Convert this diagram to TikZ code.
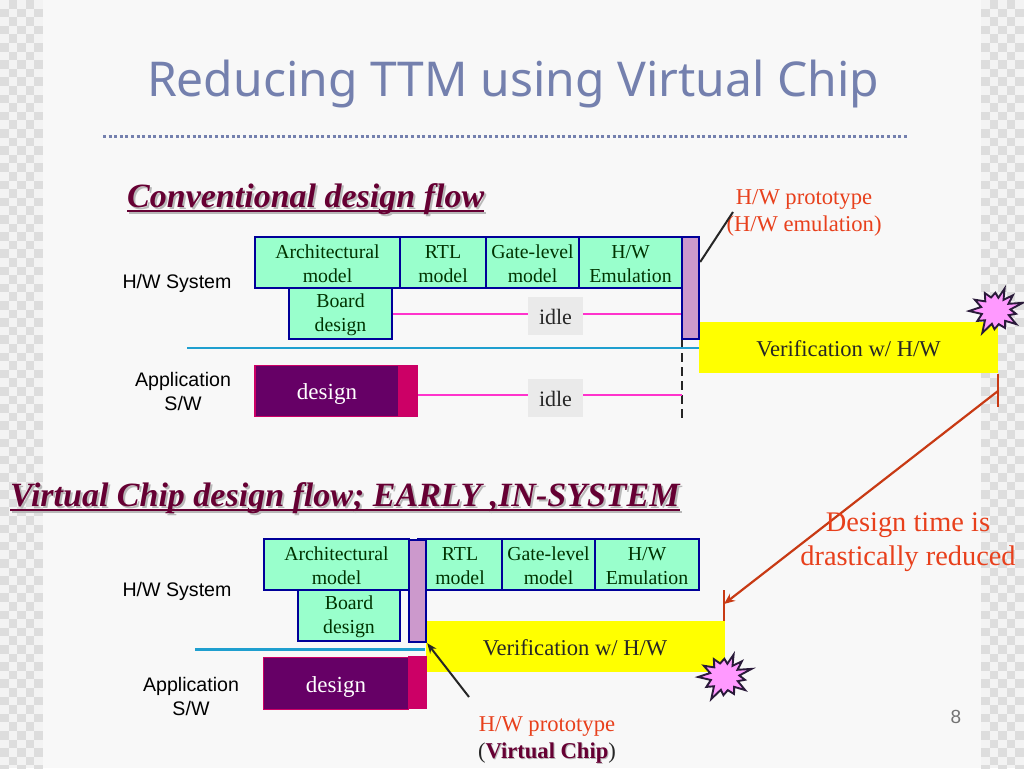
\documentclass[tikz,border=0pt]{standalone}
\usepackage{fontspec}
\setmainfont{Liberation Serif}
\newfontfamily\labfont{Liberation Sans}
\newfontfamily\titlefont{Noto Sans}
\usetikzlibrary{arrows.meta}
\definecolor{titleblue}{HTML}{7480AE}
\definecolor{panel}{HTML}{F8F8F8}
\definecolor{checkA}{HTML}{F3F3F3}
\definecolor{checkB}{HTML}{DDDDDD}
\definecolor{mint}{HTML}{99FFCC}
\definecolor{navyline}{HTML}{000099}
\definecolor{lilac}{HTML}{CC99CC}
\definecolor{plum}{HTML}{660066}
\definecolor{maroon}{HTML}{660033}
\definecolor{crimson}{HTML}{CC0066}
\definecolor{pinkline}{HTML}{FF33CC}
\definecolor{cyanline}{HTML}{1F9FCF}
\definecolor{redtext}{HTML}{E8401C}
\definecolor{redline}{HTML}{C83A14}
\definecolor{idlegrey}{HTML}{EAEAEA}
\definecolor{burstfill}{HTML}{FF99FF}
\definecolor{burstline}{HTML}{2A1A3A}
\definecolor{pureyellow}{HTML}{FFFF00}
\newsavebox{\headbox}
\newcommand{\headtxt}[1]{\sbox{\headbox}{#1}\rlap{\raisebox{-5pt}{\rule{\wd\headbox}{2.4pt}}}\usebox{\headbox}}
\newcommand{\fl}{\rule{0pt}{16.5pt}}
\newcommand{\burstat}[1]{\draw[burstline,line width=1.9pt,fill=burstfill,line join=miter,miter limit=8,shift={(#1)},scale=0.96]
  ({29*cos(-17)},{29*sin(-17)}) \foreach \a/\r in {-6/15,8/21,18/14,33/25,47/14,62/20,78/14,95/19,108/14,122/27,140/15,152/22,168/15,180/28,195/16,208/25,222/15,238/22,250/15,268/19,280/14,291/25,304/14,317/24,330/15}{ -- ({\r*cos(\a)},{\r*sin(\a)}) } -- cycle;}
\tikzset{
  x=1pt,y=-1pt,
  flowbox/.style={draw=navyline,line width=2.4pt,fill=mint,inner sep=0pt,align=center,text=black!80!green,
    font=\fontsize{19.8}{24}\selectfont},
  protobox/.style={draw=navyline,line width=2.4pt,fill=lilac,inner sep=0pt},
  idlebox/.style={fill=idlegrey,inner sep=0pt,minimum width=55pt,minimum height=38pt,text=black!85,font=\fontsize{22}{24}\selectfont,execute at begin node={\rule{0pt}{17pt}}},
  designbox/.style={draw=crimson,line width=1.4pt,fill=plum,inner sep=0pt,text=white,font=\fontsize{23}{24}\selectfont,execute at begin node={\rule{0pt}{22pt}}},
  crimbox/.style={fill=crimson,inner sep=0pt},
  verifbox/.style={fill=pureyellow,inner sep=0pt,minimum width=299pt,minimum height=51pt,text=black!85,font=\fontsize{22.6}{24}\selectfont,execute at begin node={\rule{0pt}{19pt}}},
  lab/.style={inner sep=0pt,align=center,text=black,font=\labfont\fontsize{19.6}{24}\selectfont},
  redlab/.style={inner sep=0pt,align=center,text=redtext,font=\fontsize{22.6}{27}\selectfont},
  redbig/.style={inner sep=0pt,align=center,text=redtext,font=\fontsize{28.4}{34}\selectfont},
  head/.style={inner sep=0pt,anchor=west,font=\bfseries\itshape\fontsize{34}{36}\selectfont},
  pinkconn/.style={pinkline,line width=2.3pt},
  cyanconn/.style={cyanline,line width=2.3pt},
  redconn/.style={redline,line width=2.2pt},
}
\begin{document}
\begin{tikzpicture}
\useasboundingbox (0,0) rectangle (1024,768);
\fill[panel] (0,0) rectangle (1024,768);
% checker side bands
\fill[checkA] (0,0) rectangle (43,768);
\fill[checkA] (981,0) rectangle (1024,768);
\foreach \c in {0,...,4}{
  \foreach \r in {0,...,89}{
    \pgfmathtruncatemacro{\p}{mod(\c+\r,2)}
    \ifnum\p=1
      \fill[checkB] ({\c*8.6},{\r*8.6}) rectangle ({(\c+1)*8.6},{(\r+1)*8.6});
      \fill[checkB] ({981+\c*8.6},{\r*8.6}) rectangle ({981+(\c+1)*8.6},{(\r+1)*8.6});
    \fi
  }
}
% title
\node[inner sep=0pt,text=titleblue,font=\titlefont\fontsize{48}{56}\selectfont] (title) at (513,84) {Reducing TTM using Virtual Chip};
\coordinate (ruleL) at (103,136);
\coordinate (ruleR) at (908,136);
\draw[titleblue,line width=3pt,dash pattern=on 3pt off 2.6pt] (ruleL) -- (ruleR);
% headings
\node[head,text=black!28] (head1s) at (129,201) {\headtxt{Conventional design flow}};
\node[head,text=maroon] (head1) at (127,199) {\headtxt{Conventional design flow}};
\node[head,text=black!28] (head2s) at (12,500) {\headtxt{Virtual Chip design flow; EARLY ,IN-SYSTEM}};
\node[head,text=maroon] (head2) at (10,498) {\headtxt{Virtual Chip design flow; EARLY ,IN-SYSTEM}};
% upper flow
\node[lab] (hw1) at (177,283) {H/W System};
\node[lab] (app1) at (183,391) {Application\\S/W};
\node[verifbox] (ver1) at (848.5,347.5) {Verification w/ H/W};
\draw[black!85,line width=2pt,dash pattern=on 9pt off 5pt] (682,339) coordinate (dashT) -- (682,420) coordinate (dashB);
\node[flowbox,minimum width=145pt,minimum height=51pt] (arch1) at (327.5,262.5) {\fl Architectural\\model};
\node[flowbox,minimum width=86pt,minimum height=51pt] (rtl1) at (443,262.5) {\fl RTL\\model};
\node[flowbox,minimum width=93pt,minimum height=51pt] (gate1) at (532.5,262.5) {\fl Gate-level\\model};
\node[flowbox,minimum width=103pt,minimum height=51pt] (emu1) at (630.5,262.5) {\fl H/W\\Emulation};
\node[flowbox,minimum width=103pt,minimum height=51pt] (board1) at (340.5,313.5) {\fl Board\\design};
\node[protobox,minimum width=17pt,minimum height=102pt] (proto1) at (690.5,288) {};
\node[designbox,minimum width=144pt,minimum height=51pt] (des1) at (327,391) {design};
\node[crimbox,minimum width=19pt,minimum height=52pt] (crim1) at (408.5,390.5) {};
\node[idlebox] (idle1) at (555.5,316) {idle};
\node[idlebox] (idle2) at (555.5,398) {idle};
\draw[pinkconn] (board1.east |- 0,314) -- (idle1.west |- 0,314);
\draw[pinkconn] (idle1.east |- 0,314) -- (proto1.west |- 0,314);
\draw[pinkconn] (crim1.east |- 0,395) -- (idle2.west |- 0,395);
\draw[pinkconn] (idle2.east |- 0,395) -- (dashT |- 0,395);
\coordinate (cyan1) at (187,348);
\draw[cyanconn] (cyan1) -- (ver1.west |- cyan1);
\node[redlab] (proto1lab) at (804,213) {H/W prototype\\(H/W emulation)};
\coordinate (proto1tip) at (733,212);
\draw[black!85,line width=2pt] (proto1.east |- 0,262) -- (proto1tip);
\burstat{996,311}
% red connector
\coordinate (tick1T) at (998,374);
\coordinate (tick1B) at (998,407);
\coordinate (tick1M) at (998,391);
\draw[redconn] (tick1T) -- (tick1B);
\coordinate (tick2T) at (724,590);
\coordinate (tick2B) at (724,621);
\coordinate (tick2M) at (724,604);
\draw[redconn] (tick2T) -- (tick2B);
\draw[redconn,-{Stealth[length=11pt,width=9pt]}] (tick1M) -- (tick2M);
\node[redbig] (reduced) at (908,542.5) {Design time is\\drastically reduced};
% lower flow
\node[lab] (hw2) at (177,591) {H/W System};
\node[lab] (app2) at (191,696.5) {Application\\S/W};
\node[verifbox] (ver2) at (575,646.5) {Verification w/ H/W};
\node[flowbox,minimum width=145pt,minimum height=51pt] (arch2) at (336.5,564.5) {\fl Architectural\\model};
\node[flowbox,minimum width=84pt,minimum height=51pt] (rtl2) at (460,564.5) {\fl RTL\\model};
\node[flowbox,minimum width=93pt,minimum height=51pt] (gate2) at (548.5,564.5) {\fl Gate-level\\model};
\node[flowbox,minimum width=104pt,minimum height=51pt] (emu2) at (647,564.5) {\fl H/W\\Emulation};
\node[flowbox,minimum width=102pt,minimum height=51pt] (board2) at (349,615.5) {\fl Board\\design};
\node[protobox,minimum width=17pt,minimum height=102pt] (proto2) at (417.5,591) {};
\node[designbox,minimum width=145pt,minimum height=52pt] (des2) at (336,683.5) {design};
\node[crimbox,minimum width=19pt,minimum height=53pt] (crim2) at (417.5,682.5) {};
\coordinate (cyan2) at (195,649.5);
\draw[cyanconn] (cyan2) -- (ver2.west |- cyan2);
\burstat{725,677}
\node[redlab] (proto2lab) at (547,739.5) {H/W prototype\\\textcolor{black!85}{(}\phantom{\textbf{Virtual Chip}}\textcolor{black!85}{)}};
\node[inner sep=0pt,text=black!28,font=\bfseries\fontsize{22.6}{24}\selectfont] (vcs) at (548,754.5) {Virtual Chip};
\node[inner sep=0pt,text=maroon,font=\bfseries\fontsize{22.6}{24}\selectfont] (vc) at (547,753.5) {Virtual Chip};
\coordinate (proto2from) at (469,697);
\draw[black!85,line width=2pt,-{Stealth[length=10pt,width=8pt]}] (proto2from) -- (proto2.south east);
\node[inner sep=0pt,text=black!55,font=\labfont\fontsize{19}{20}\selectfont] (pagenum) at (956,717) {8};
\end{tikzpicture}
\end{document}
